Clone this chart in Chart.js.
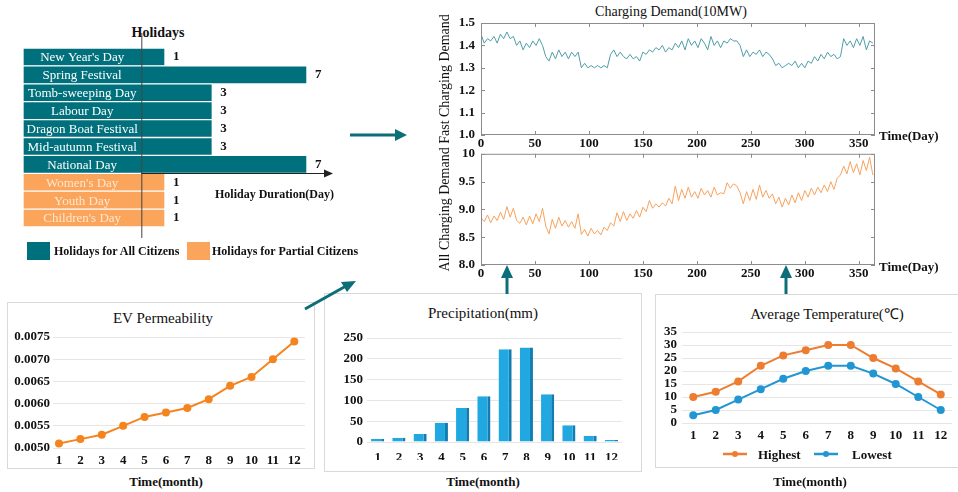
<!DOCTYPE html>
<html>
<head>
<meta charset="utf-8">
<script src="https://cdn.jsdelivr.net/npm/chart.js@4.4.1/dist/chart.umd.min.js"></script>
<style>
  body { margin:0; background:#fff; }
  #stage { position:relative; width:958px; height:492px; overflow:hidden; background:#fff;
           font-family:"Liberation Serif","Times New Roman",serif; color:#111; }
  canvas { position:absolute; }
  .lbl { position:absolute; transform:translate(-50%,-50%); white-space:nowrap; }
  .left { transform:translate(0,-50%); }
  .b { font-weight:bold; }
  .box { position:absolute; border:1px solid #d9d9d9; background:#fff; box-sizing:border-box; }
  .sw { position:absolute; width:23px; height:18px; }
</style>
</head>
<body>
<div id="stage">
  <!-- holidays -->
  <div class="lbl b" style="left:158px;top:33px;font-size:14px">Holidays</div>
  <canvas id="c-hol" width="400" height="270" style="left:0;top:0"></canvas>
  <div class="lbl left b" style="left:215px;top:194px;font-size:12px">Holiday Duration(Day)</div>
  <div class="sw" style="left:27px;top:242px;background:#00707c"></div>
  <div class="lbl left b" style="left:54px;top:251px;font-size:12px">Holidays for All Citizens</div>
  <div class="sw" style="left:187px;top:242px;background:#fba55c"></div>
  <div class="lbl left b" style="left:212px;top:251px;font-size:12px">Holidays for Partial Citizens</div>

  <!-- charging demand -->
  <div class="lbl" style="left:671px;top:12px;font-size:14px">Charging Demand(10MW)</div>
  <canvas id="c-fast" width="538" height="152" style="left:420px;top:0"></canvas>
  <canvas id="c-all" width="538" height="147" style="left:420px;top:140px"></canvas>
  <div class="lbl left b" style="left:879px;top:136px;font-size:13px">Time(Day)</div>
  <div class="lbl left b" style="left:879px;top:267px;font-size:13px">Time(Day)</div>

  <!-- EV -->
  <div class="box" style="left:7px;top:302px;width:308px;height:167px"></div>
  <div class="lbl" style="left:163px;top:318px;font-size:15px">EV Permeability</div>
  <canvas id="c-ev" width="308" height="167" style="left:7px;top:302px"></canvas>
  <div class="lbl b" style="left:166px;top:482px;font-size:13px">Time(month)</div>

  <!-- precipitation -->
  <div class="box" style="left:324px;top:293px;width:318px;height:179px"></div>
  <div class="lbl" style="left:483px;top:313px;font-size:15px">Precipitation(mm)</div>
  <canvas id="c-pre" width="318" height="179" style="left:324px;top:293px"></canvas>
  <div class="lbl b" style="left:483px;top:482px;font-size:13px">Time(month)</div>

  <!-- temperature -->
  <div class="box" style="left:655px;top:294px;width:310px;height:174px"></div>
  <div class="lbl" style="left:827px;top:313px;font-size:15px">Average Temperature(℃)</div>
  <canvas id="c-tem" width="303" height="174" style="left:655px;top:294px"></canvas>
  <svg style="position:absolute;left:722px;top:448px" width="26" height="12"><line x1="1" y1="6" x2="25" y2="6" stroke="#ed7d31" stroke-width="2.5"/><circle cx="13" cy="6" r="3" fill="#ed7d31"/></svg>
  <div class="lbl left b" style="left:758px;top:455px;font-size:13px">Highest</div>
  <svg style="position:absolute;left:813px;top:448px" width="26" height="12"><line x1="1" y1="6" x2="25" y2="6" stroke="#2196d3" stroke-width="2.5"/><circle cx="13" cy="6" r="3" fill="#2196d3"/></svg>
  <div class="lbl left b" style="left:852px;top:455px;font-size:13px">Lowest</div>
  <div class="lbl b" style="left:810px;top:482px;font-size:13px">Time(month)</div>

  <!-- linking arrows -->
  <svg style="position:absolute;left:0;top:0" width="958" height="492">
    <g stroke="#0b6e78" stroke-width="3" fill="#0b6e78">
      <line x1="350" y1="135" x2="396" y2="135"/>
      <polygon points="407,135 395,129 395,141" stroke="none"/>
      <line x1="305" y1="309" x2="346" y2="286"/>
      <polygon points="356,281 341,282 347,292" stroke="none"/>
      <line x1="507" y1="294" x2="507" y2="276"/>
      <polygon points="507,265 501,278 513,278" stroke="none"/>
      <line x1="786" y1="294" x2="786" y2="276"/>
      <polygon points="786,265 780,278 792,278" stroke="none"/>
    </g>
  </svg>
</div>

<script>
const SERIF = '"Liberation Serif","Times New Roman",serif';
Chart.defaults.font.family = SERIF;
Chart.defaults.color = '#111';

// ---- data ----
const HOLIDAY_NAMES = ["New Year's Day","Spring Festival","Tomb-sweeping Day","Labour Day","Dragon Boat Festival",
  "Mid-autumn Festival","National Day","Women's Day","Youth Day","Children's Day"];
const HOLIDAY_DAYS = [1,7,3,3,3,3,7,1,1,1];
const HOLIDAY_GROUP = ["all","all","all","all","all","all","all","partial","partial","partial"];

const DAY_STEP = 3; // one sample every 3 days
const FAST_DEMAND = [
  1.45,1.41,1.43,1.42,1.44,1.41,1.45,1.43,1.46,1.43,
  1.44,1.40,1.42,1.38,1.41,1.39,1.42,1.40,1.43,1.40,
  1.35,1.33,1.37,1.34,1.38,1.35,1.37,1.34,1.37,1.35,
  1.37,1.30,1.32,1.30,1.31,1.30,1.31,1.30,1.31,1.30,
  1.36,1.38,1.35,1.37,1.35,1.34,1.36,1.34,1.35,1.33,
  1.37,1.36,1.38,1.37,1.39,1.38,1.40,1.37,1.39,1.38,
  1.41,1.39,1.42,1.38,1.43,1.40,1.42,1.39,1.43,1.41,
  1.38,1.44,1.40,1.42,1.39,1.42,1.41,1.43,1.42,1.42,
  1.40,1.35,1.38,1.35,1.37,1.36,1.38,1.35,1.37,1.36,
  1.34,1.31,1.32,1.30,1.31,1.32,1.31,1.33,1.30,1.32,
  1.30,1.33,1.32,1.35,1.33,1.36,1.34,1.37,1.35,1.36,
  1.34,1.35,1.43,1.40,1.42,1.39,1.43,1.40,1.44,1.38,
  1.42,1.41];
const ALL_DEMAND = [
  8.85,8.78,8.90,8.76,8.88,8.80,8.95,8.82,9.05,8.86,
  9.02,8.80,8.75,8.86,8.72,8.88,8.74,8.92,8.78,9.02,
  8.70,8.56,8.82,8.66,8.86,8.70,8.80,8.68,8.78,8.66,
  8.92,8.55,8.64,8.52,8.66,8.56,8.62,8.54,8.68,8.62,
  8.76,8.70,8.94,8.78,8.96,8.80,8.92,8.84,8.98,8.86,
  9.04,8.96,9.16,9.02,9.10,9.04,9.12,9.06,9.20,9.10,
  9.42,9.16,9.36,9.20,9.40,9.22,9.32,9.20,9.38,9.26,
  9.34,9.22,9.40,9.26,9.30,9.28,9.48,9.38,9.46,9.42,
  9.30,9.10,9.32,9.16,9.36,9.18,9.44,9.22,9.34,9.20,
  9.28,9.10,9.22,9.04,9.20,9.08,9.26,9.12,9.30,9.16,
  9.34,9.22,9.38,9.26,9.40,9.30,9.44,9.32,9.50,9.36,
  9.56,9.62,9.78,9.64,9.86,9.66,9.82,9.62,9.88,9.70,
  9.94,9.62];

const MONTHS = [1,2,3,4,5,6,7,8,9,10,11,12];
const EV_PERM = [0.0051,0.0052,0.0053,0.0055,0.0057,0.0058,0.0059,0.0061,0.0064,0.0066,0.0070,0.0074];
const PRECIP = [7,10,19,46,82,110,223,227,115,40,15,5];
const TEMP_HIGH = [10,12,16,22,26,28,30,30,25,21,16,11];
const TEMP_LOW = [3,5,9,13,17,20,22,22,19,15,10,5];

const TEAL = "#00707c", PEACH = "#fba55c";
const tickFont = { size:13, weight:"bold", family:SERIF };
const noGrid = { display:false, drawTicks:false };

// ---- holidays (horizontal floating bars) ----
const holidayDecor = {
  id:"holidayDecor",
  afterDatasetsDraw(chart){
    const {ctx, chartArea:a, scales:{x, y}} = chart;
    const x0 = x.getPixelForValue(0);
    ctx.save();
    ctx.textBaseline = "middle";
    HOLIDAY_NAMES.forEach((name, i) => {
      const yy = y.getPixelForValue(i);
      ctx.font = `13px ${SERIF}`; ctx.textAlign = "center";
      ctx.fillStyle = HOLIDAY_GROUP[i] === "all" ? "#fff" : "#fde6cf";
      ctx.fillText(name, (a.left + x0) / 2, yy + 1);
      ctx.font = `bold 13px ${SERIF}`; ctx.textAlign = "left"; ctx.fillStyle = "#111";
      ctx.fillText(String(HOLIDAY_DAYS[i]), x.getPixelForValue(HOLIDAY_DAYS[i]) + 8, yy);
    });
    ctx.strokeStyle = "#444"; ctx.lineWidth = 1;
    ctx.beginPath(); ctx.moveTo(x0 + 0.5, 33); ctx.lineTo(x0 + 0.5, 238); ctx.stroke();
    const ya = Math.round((y.getPixelForValue(6) + y.getPixelForValue(7)) / 2) + 0.5;
    ctx.strokeStyle = "#222"; ctx.fillStyle = "#222";
    ctx.beginPath(); ctx.moveTo(x0, ya); ctx.lineTo(a.right - 6, ya); ctx.stroke();
    ctx.beginPath(); ctx.moveTo(a.right, ya); ctx.lineTo(a.right - 9, ya - 4); ctx.lineTo(a.right - 9, ya + 4); ctx.closePath(); ctx.fill();
    ctx.restore();
  }
};

new Chart(document.getElementById("c-hol"), {
  type:"bar",
  data:{
    labels: HOLIDAY_NAMES,
    datasets:[
      { label:"Holidays for All Citizens", backgroundColor:TEAL,
        data: HOLIDAY_DAYS.map((d, i) => HOLIDAY_GROUP[i] === "all" ? [-5, d] : null) },
      { label:"Holidays for Partial Citizens", backgroundColor:PEACH,
        data: HOLIDAY_DAYS.map((d, i) => HOLIDAY_GROUP[i] === "partial" ? [-5, d] : null) },
    ],
  },
  options:{
    indexAxis:"y", responsive:false, animation:false,
    layout:{ padding:{ left:23, right:67, top:48, bottom:43 } },
    datasets:{ bar:{ grouped:false, barPercentage:1, categoryPercentage:1,
      borderColor:"#fff", borderWidth:1, borderSkipped:false } },
    scales:{ x:{ display:false, min:-5, max:8.1 }, y:{ display:false } },
    plugins:{ legend:{ display:false }, tooltip:{ enabled:false } },
  },
  plugins:[holidayDecor],
});

// ---- charging demand ----
const frameTicks = {
  id:"frameTicks",
  afterDraw(chart){
    const {ctx, chartArea:a, scales:{x, y}} = chart;
    ctx.save();
    ctx.strokeStyle = "#8c8c8c"; ctx.lineWidth = 1;
    ctx.strokeRect(a.left + 0.5, a.top + 0.5, a.right - a.left - 1, a.bottom - a.top - 1);
    ctx.beginPath();
    x.ticks.forEach(t => {
      const px = Math.round(x.getPixelForValue(t.value)) + 0.5;
      ctx.moveTo(px, a.bottom); ctx.lineTo(px, a.bottom - 4);
      ctx.moveTo(px, a.top); ctx.lineTo(px, a.top + 4);
    });
    y.ticks.forEach(t => {
      const py = Math.round(y.getPixelForValue(t.value)) + 0.5;
      ctx.moveTo(a.left, py); ctx.lineTo(a.left + 4, py);
      ctx.moveTo(a.right, py); ctx.lineTo(a.right - 4, py);
    });
    ctx.stroke();
    ctx.restore();
  }
};

function demandChart(id, values, color, title, yMin, yMax, yStep, fmt, padTop, padBottom){
  return new Chart(document.getElementById(id), {
    type:"line",
    data:{ datasets:[{ data: values.map((v, i) => ({ x:i * DAY_STEP, y:v })),
      borderColor:color, borderWidth:1, pointRadius:0, tension:0 }] },
    options:{
      responsive:false, animation:false,
      layout:{ padding:{ left:0, right:83, top:padTop, bottom:padBottom } },
      scales:{
        x:{ type:"linear", min:0, max:365, grid:noGrid, border:{ display:false },
            ticks:{ stepSize:50, includeBounds:false, padding:1, font:tickFont, maxRotation:0 },
            afterFit: s => { s.height = 15; } },
        y:{ min:yMin, max:yMax, grid:noGrid, border:{ display:false },
            ticks:{ stepSize:yStep, padding:6, font:tickFont, callback:fmt, autoSkip:false },
            title:{ display:true, text:title, font:{ size:14, family:SERIF }, padding:{ top:17, bottom:0 } },
            afterFit: s => { s.width = 61; } },
      },
      plugins:{ legend:{ display:false }, tooltip:{ enabled:false } },
    },
    plugins:[frameTicks],
  });
}
demandChart("c-fast", FAST_DEMAND, "#4f9ea8", "Fast Charging Demand", 1.0, 1.5, 0.1, v => v.toFixed(1), 23, 2);
demandChart("c-all", ALL_DEMAND, "#f6a35e", "All Charging Demand", 8.0, 10, 0.5,
  v => v === 10 ? "10" : v.toFixed(1), 13, 7);

// ---- EV permeability ----
new Chart(document.getElementById("c-ev"), {
  type:"line",
  data:{ datasets:[{ data: MONTHS.map((m, i) => ({ x:m, y:EV_PERM[i] })),
    borderColor:"#f5841f", backgroundColor:"#f5841f", borderWidth:2, pointRadius:3, tension:0 }] },
  options:{
    responsive:false, animation:false,
    layout:{ padding:{ left:0, right:10, top:35, bottom:3 } },
    scales:{
      x:{ type:"linear", min:0.72, max:12.5, grid:noGrid, border:{ display:false },
          afterBuildTicks: s => { s.ticks = MONTHS.map(v => ({ value:v })); },
          ticks:{ padding:5, font:tickFont, maxRotation:0, autoSkip:false },
          afterFit: s => { s.height = 18; } },
      y:{ min:0.005, max:0.0075, grid:{ color:"#e6e6e6", drawTicks:false }, border:{ display:false },
          ticks:{ stepSize:0.0005, padding:3, font:tickFont, autoSkip:false, callback: v => v.toFixed(4) },
          afterFit: s => { s.width = 46; } },
    },
    plugins:{ legend:{ display:false }, tooltip:{ enabled:false } },
  },
});

// ---- precipitation ----
new Chart(document.getElementById("c-pre"), {
  type:"bar",
  data:{ labels: MONTHS, datasets:[{ data: PRECIP, backgroundColor:"#21a8e1", borderColor:"#117db0",
    borderWidth:{ top:0, right:3, bottom:0, left:0 }, borderSkipped:false, barPercentage:0.62, categoryPercentage:1 }] },
  options:{
    responsive:false, animation:false,
    layout:{ padding:{ left:0, right:20, top:45, bottom:12 } },
    scales:{
      x:{ grid:noGrid, border:{ display:false },
          ticks:{ padding:8, font:tickFont, maxRotation:0, autoSkip:false },
          afterFit: s => { s.height = 18; } },
      y:{ min:0, max:250, grid:{ color:"#e6e6e6", drawTicks:false }, border:{ display:false },
          ticks:{ stepSize:50, padding:4, font:tickFont, autoSkip:false },
          afterFit: s => { s.width = 43; } },
    },
    plugins:{ legend:{ display:false }, tooltip:{ enabled:false } },
  },
});

// ---- temperature ----
new Chart(document.getElementById("c-tem"), {
  type:"line",
  data:{ labels: MONTHS, datasets:[
    { label:"Highest", data:TEMP_HIGH, borderColor:"#ed7d31", backgroundColor:"#ed7d31", borderWidth:2, pointRadius:3 },
    { label:"Lowest", data:TEMP_LOW, borderColor:"#2196d3", backgroundColor:"#2196d3", borderWidth:2, pointRadius:3 },
  ] },
  options:{
    responsive:false, animation:false,
    layout:{ padding:{ left:0, right:6, top:38, bottom:29 } },
    scales:{
      x:{ offset:true, grid:noGrid, border:{ display:false },
          ticks:{ padding:5, font:tickFont, maxRotation:0, autoSkip:false },
          afterFit: s => { s.height = 16; } },
      y:{ min:0, max:35, grid:{ color:"#e6e6e6", drawTicks:false }, border:{ display:false },
          ticks:{ stepSize:5, padding:5, font:tickFont, autoSkip:false },
          afterFit: s => { s.width = 27; } },
    },
    plugins:{ legend:{ display:false }, tooltip:{ enabled:false } },
  },
});
</script>
</body>
</html>
